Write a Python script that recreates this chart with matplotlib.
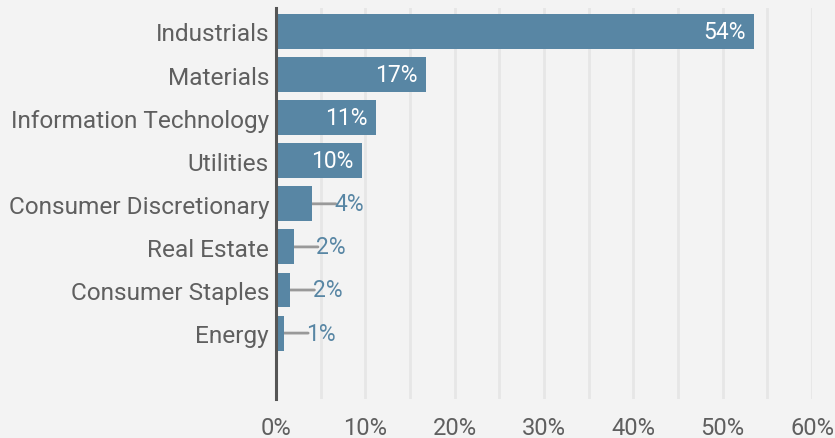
import matplotlib.pyplot as plt
from matplotlib.ticker import MultipleLocator, FuncFormatter

sectors = ['Industrials', 'Materials', 'Information Technology', 'Utilities',
           'Consumer Discretionary', 'Real Estate', 'Consumer Staples', 'Energy']
weights = [53.5, 16.8, 11.2, 9.6, 4.0, 2.0, 1.6, 0.9]
labels = ['54%', '17%', '11%', '10%', '4%', '2%', '2%', '1%']

BG = '#f3f3f3'
BAR = '#5886a4'
GREY = '#5f5f5f'

plt.rcParams['font.family'] = ['Roboto', 'DejaVu Sans']

fig = plt.figure(figsize=(8.35, 4.39), dpi=100, facecolor=BG)
ax = fig.add_axes([276 / 835, 39 / 439, (812 - 276) / 835, 391 / 439])
ax.set_facecolor(BG)

ypos = list(range(len(sectors)))
ax.barh(ypos, weights, height=0.81, color=BAR, zorder=3)

for y, w, lab in zip(ypos, weights, labels):
    if w > 8:
        ax.annotate(lab, (w, y), xytext=(-6, 0), textcoords='offset points',
                    ha='right', va='center', color='white', fontsize=16.5, zorder=4)
    else:
        ax.annotate('', (w, y), xytext=(w + 2.7, y),
                    arrowprops=dict(arrowstyle='-', color='#999999', lw=2,
                                    shrinkA=0, shrinkB=0), zorder=2)
        ax.text(w + 2.5, y, lab, ha='left', va='center', color=BAR,
                fontsize=16.5, zorder=4)

ax.set_ylim(8.53, -0.545)
ax.set_xlim(0, 60)
ax.set_yticks(ypos)
ax.set_yticklabels(sectors, fontsize=17.6)
ax.xaxis.set_major_locator(MultipleLocator(10))
ax.xaxis.set_minor_locator(MultipleLocator(5))
ax.xaxis.set_major_formatter(FuncFormatter(lambda v, p: f'{v:.0f}%'))
ax.grid(axis='x', which='both', color='#e6e6e6', lw=2, zorder=0)
ax.tick_params(axis='both', which='both', length=0, labelcolor=GREY)
ax.tick_params(axis='x', pad=12, labelsize=17)
ax.tick_params(axis='y', pad=5)

for s in ['top', 'right', 'bottom']:
    ax.spines[s].set_visible(False)
ax.spines['left'].set_color('#555555')
ax.spines['left'].set_linewidth(2.2)
ax.spines['left'].set_zorder(5)

fig.savefig('out.png', dpi=100, facecolor=BG)
